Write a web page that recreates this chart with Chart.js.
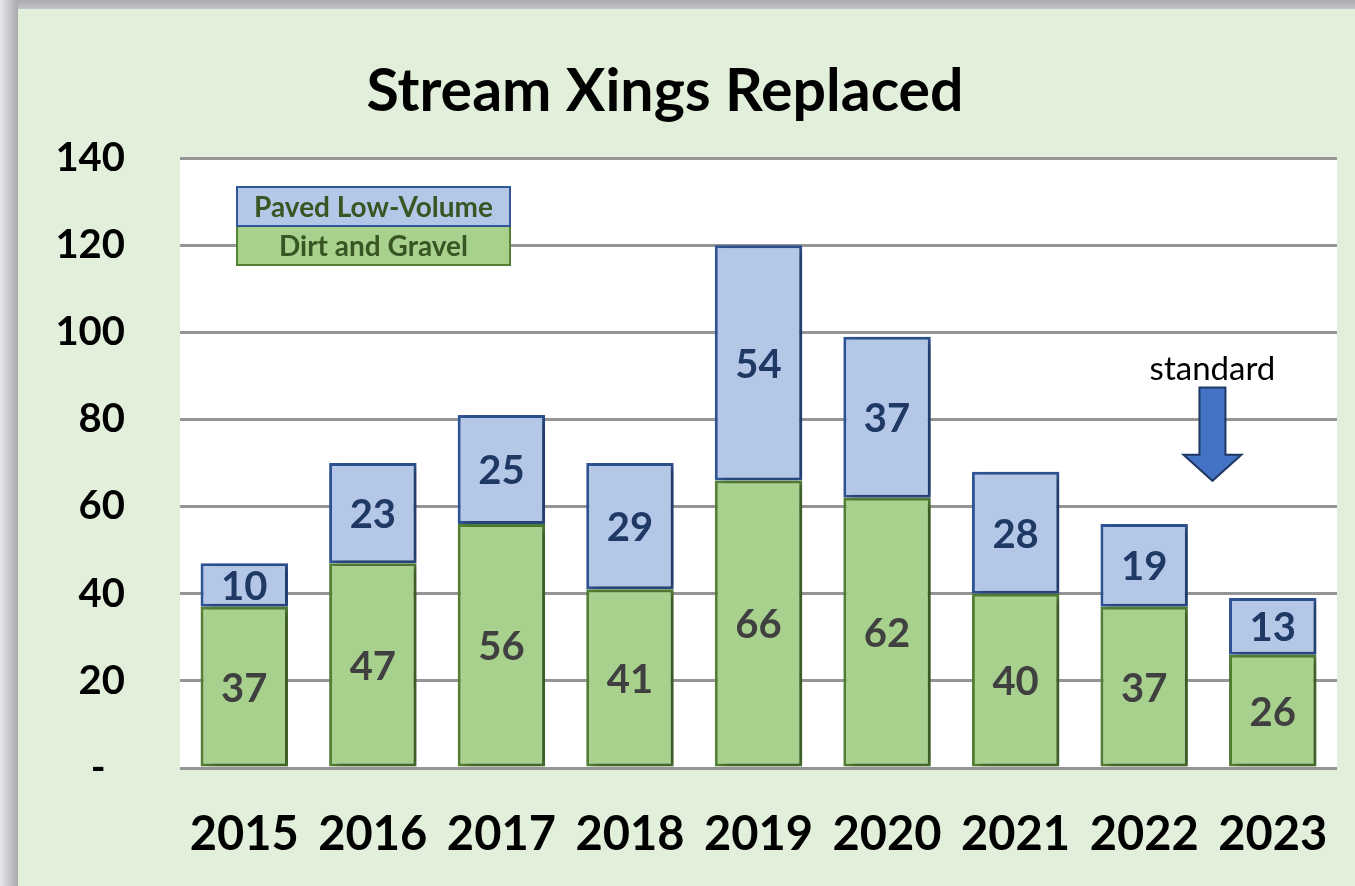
<!DOCTYPE html>
<html lang="en">
<head>
    <meta charset="UTF-8">
    <title>Stream Xings Replaced</title>
    <script src="https://cdn.jsdelivr.net/npm/chart.js"></script>
    <style>
        html, body { margin: 0; padding: 0; }
        body { width: 1355px; height: 886px; background: #e2efda; overflow: hidden; position: relative; }
        .frame-left { position: absolute; left: 0; top: 0; width: 18px; height: 886px;
            background: linear-gradient(to right, #e8e8ec, #a9a9ae); }
        .frame-top { position: absolute; left: 0; top: 0; width: 1355px; height: 9px;
            background: linear-gradient(to bottom, #a9a9ae, #c4c4c8); }
        canvas { position: absolute; left: 0; top: 0; }
    </style>
</head>
<body>
    <canvas id="grafico" width="1355" height="886"></canvas>
    <div class="frame-top"></div>
    <div class="frame-left"></div>

<script>
    // dados
    var anos = ['2015', '2016', '2017', '2018', '2019', '2020', '2021', '2022', '2023'];
    var terraCascalho = [37, 47, 56, 41, 66, 62, 40, 37, 26];
    var pavimentado = [10, 23, 25, 29, 54, 37, 28, 19, 13];
    var ticksY = [0, 20, 40, 60, 80, 100, 120, 140];
    var titulo = 'Stream Xings Replaced';
    var nomeSeries = ['Dirt and Gravel', 'Paved Low-Volume'];
    var anotacao = 'standard';

    var fonte = "Lato, 'Open Sans', sans-serif";

    // titulo, legenda, seta e rotulos desenhados a mao
    const extras = {
        id: 'extras',
        beforeDatasetsDraw(chart) {
            chart.ctx.save();
            chart.ctx.shadowColor = 'rgba(0,0,0,0.35)';
            chart.ctx.shadowBlur = 8;
            chart.ctx.shadowOffsetX = 5;
            chart.ctx.shadowOffsetY = 2;
        },
        afterDatasetsDraw(chart) {
            const ctx = chart.ctx;
            ctx.restore();
            const x = chart.scales.x;
            const y = chart.scales.y;

            // rotulos dentro das barras
            ctx.save();
            ctx.textAlign = 'center';
            ctx.textBaseline = 'middle';
            ctx.font = 'bold 40px ' + fonte;
            chart.data.datasets.forEach((ds, i) => {
                chart.getDatasetMeta(i).data.forEach((bar, j) => {
                    ctx.fillStyle = i === 0 ? '#404040' : '#1f3864';
                    ctx.fillText(ds.data[j], bar.x, (bar.y + bar.base) / 2 + 2);
                });
            });

            // titulo
            ctx.fillStyle = '#000';
            ctx.font = 'bold 59px ' + fonte;
            ctx.fillText(titulo, 665, 92);

            // legenda
            const lx = 237, lw = 273, lh = 39, ly = 187;
            ctx.lineWidth = 2;
            ctx.fillStyle = '#b4c7e7';
            ctx.fillRect(lx, ly, lw, lh);
            ctx.fillStyle = '#a9d18e';
            ctx.fillRect(lx, ly + lh, lw, lh);
            ctx.strokeStyle = '#548235';
            ctx.strokeRect(lx, ly + lh, lw, lh);
            ctx.strokeStyle = '#2f5597';
            ctx.strokeRect(lx, ly, lw, lh);
            ctx.fillStyle = '#375623';
            ctx.font = 'bold 28px ' + fonte;
            ctx.fillText(nomeSeries[1], lx + lw / 2, ly + lh / 2 + 1);
            ctx.fillText(nomeSeries[0], lx + lw / 2, ly + lh * 1.5 + 1);

            // seta "standard"
            const cx = (x.getPixelForValue(7) + x.getPixelForValue(8)) / 2 + 4;
            ctx.fillStyle = '#000';
            ctx.font = '33px ' + fonte;
            ctx.fillText(anotacao, cx, y.getPixelForValue(91.5));
            const topo = y.getPixelForValue(87.3);
            const ombro = y.getPixelForValue(71.9);
            const ponta = y.getPixelForValue(65.9);
            ctx.beginPath();
            ctx.moveTo(cx - 13, topo);
            ctx.lineTo(cx + 13, topo);
            ctx.lineTo(cx + 13, ombro);
            ctx.lineTo(cx + 29, ombro);
            ctx.lineTo(cx, ponta);
            ctx.lineTo(cx - 29, ombro);
            ctx.lineTo(cx - 13, ombro);
            ctx.closePath();
            ctx.fillStyle = '#4472c4';
            ctx.fill();
            ctx.strokeStyle = '#1f3864';
            ctx.lineWidth = 2;
            ctx.stroke();
            ctx.restore();
        }
    };

    const ctx = document.getElementById('grafico');
    new Chart(ctx, {
        type: 'bar',
        data: {
            labels: anos,
            datasets: [{
                label: nomeSeries[0],
                data: terraCascalho,
                backgroundColor: '#a9d18e',
                borderColor: '#548235',
                borderWidth: 3,
                borderSkipped: false
            }, {
                label: nomeSeries[1],
                data: pavimentado,
                backgroundColor: '#b4c7e7',
                borderColor: '#2f5597',
                borderWidth: 3,
                borderSkipped: false
            }]
        },
        options: {
            responsive: false,
            animation: false,
            layout: { padding: { top: 158, right: 18, left: 0, bottom: 0 } },
            datasets: { bar: { categoryPercentage: 1, barPercentage: 0.68 } },
            plugins: {
                legend: { display: false },
                tooltip: { enabled: false }
            },
            scales: {
                x: {
                    stacked: true,
                    grid: { display: false },
                    border: { display: false },
                    ticks: { color: '#000', padding: 31, font: { family: fonte, size: 47, weight: 'bold' } },
                    afterFit: scale => {
                        scale.height = 118;
                        scale.paddingLeft = 0;
                        scale.paddingRight = 0;
                    }
                },
                y: {
                    stacked: true,
                    min: 0,
                    max: 140,
                    afterBuildTicks: scale => { scale.ticks = ticksY.map(v => ({ value: v })); },
                    grid: { color: '#959595', lineWidth: 3, drawTicks: false },
                    border: { display: false },
                    ticks: {
                        color: '#000',
                        padding: 55,
                        font: { family: fonte, size: 40, weight: 'bold' },
                        callback: v => v === 0 ? '-  ' : v
                    },
                    afterFit: scale => { scale.width = 180; }
                }
            }
        },
        plugins: [extras, {
            id: 'fundo',
            beforeDraw(chart) {
                const a = chart.chartArea;
                chart.ctx.save();
                chart.ctx.fillStyle = '#ffffff';
                chart.ctx.fillRect(a.left, a.top, a.right - a.left, a.bottom - a.top);
                chart.ctx.restore();
            }
        }]
    });
</script>
</body>
</html>
